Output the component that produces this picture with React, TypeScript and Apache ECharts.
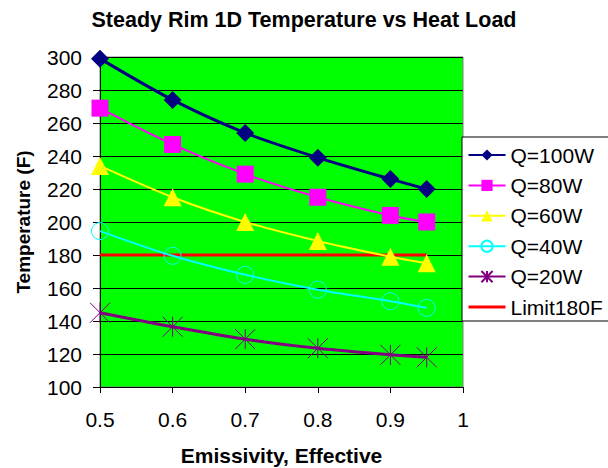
import React, { useEffect, useRef } from "react";
import * as echarts from "echarts";

const emissivity = [0.5, 0.6, 0.7, 0.8, 0.9, 0.95];
const q100 = [299, 274, 254, 239, 226, 220];
const q80 = [269, 247, 229, 215, 204, 200];
const q60 = [234, 215, 200, 188.5, 179, 175];
const q40 = [194.5, 179.5, 168, 159, 152, 148];
const q20 = [145, 136.5, 129, 123.5, 119.5, 118];
const limitX = [0.5, 0.95];
const limitY = [180, 180];
const seriesNames = ["Q=100W", "Q=80W", "Q=60W", "Q=40W", "Q=20W", "Limit180F"];

const FONT = "'Liberation Sans', Arial, sans-serif";
const ASTERISK = "path://M0 0L20 20M20 0L0 20M10 0L10 20";

function pairs(xs: number[], ys: number[]) {
  return xs.map((x, i) => [x, ys[i]]);
}

export default function App() {
  const ref = useRef<HTMLDivElement>(null);
  useEffect(() => {
    document.body.style.margin = "0";
    const chart = echarts.init(ref.current!, undefined, { renderer: "svg" });
    const mk = (
      name: string,
      ys: number[],
      color: string,
      symbol: string,
      size: number,
      width: number,
      hollow = false
    ) => ({
      name,
      type: "line",
      smooth: 0.3,
      data: pairs(emissivity, ys),
      symbol,
      symbolSize: size,
      showSymbol: true,
      lineStyle: { color, width },
      itemStyle: hollow
        ? { color: "rgba(0,0,0,0)", borderColor: color, borderWidth: 1 }
        : { color, borderColor: color, borderWidth: 0 },
      emphasis: { disabled: true },
    });
    chart.setOption({
      animation: false,
      backgroundColor: "#ffffff",
      textStyle: { fontFamily: FONT },
      title: {
        text: "Steady Rim 1D Temperature vs Heat Load",
        left: "center",
        top: 4,
        textStyle: { fontFamily: FONT, fontSize: 21.5, fontWeight: "bold", color: "#000" },
      },
      legend: {
        orient: "vertical",
        left: 462,
        top: 137,
        padding: [7.5, 6, 3.5, 5],
        itemWidth: 37,
        itemHeight: 14,
        itemGap: 9.4,
        backgroundColor: "#ffffff",
        borderColor: "#000000",
        borderWidth: 1,
        data: [
          ...seriesNames.slice(0, 5),
          {
            name: seriesNames[5],
            itemStyle: { color: "rgba(0,0,0,0)", opacity: 0, borderWidth: 0 },
            lineStyle: { color: "#ff0000", width: 3 },
          },
        ],
        textStyle: { fontFamily: FONT, fontSize: 21, color: "#000", lineHeight: 21 },
      },
      grid: {
        left: 100,
        right: 145,
        top: 57,
        bottom: 81,
        show: true,
        containLabel: false,
        outerBoundsMode: "none",
        backgroundColor: "#00ff00",
        borderColor: "#808080",
        borderWidth: 1,
      },
      xAxis: {
        type: "value",
        min: 0.5,
        max: 1,
        interval: 0.1,
        name: "Emissivity, Effective",
        nameLocation: "middle",
        nameGap: 58,
        nameTextStyle: { fontFamily: FONT, fontSize: 21, fontWeight: "bold", color: "#000" },
        axisLine: { show: true, lineStyle: { color: "#000", width: 1 } },
        axisTick: { show: true, length: 6, lineStyle: { color: "#000" } },
        axisLabel: {
          fontFamily: FONT,
          fontSize: 21,
          color: "#000",
          margin: 22,
          formatter: (v: number) => (Math.abs(v - 1) < 1e-9 ? "1" : v.toFixed(1)),
        },
        splitLine: { show: false },
      },
      yAxis: {
        type: "value",
        min: 100,
        max: 300,
        interval: 20,
        name: "Temperature (F)",
        nameLocation: "middle",
        nameGap: 67,
        nameRotate: 90,
        nameTextStyle: { fontFamily: FONT, fontSize: 19, fontWeight: "bold", color: "#000" },
        axisLine: { show: true, lineStyle: { color: "#000", width: 1 } },
        axisTick: { show: true, length: 7, lineStyle: { color: "#000" } },
        axisLabel: { fontFamily: FONT, fontSize: 21, color: "#000", margin: 18 },
        splitLine: { show: true, lineStyle: { color: "#000", width: 1 } },
      },
      series: [
        mk("Q=100W", q100, "#000080", "diamond", 18, 3),
        mk("Q=80W", q80, "#ff00ff", "rect", 17, 2),
        mk("Q=60W", q60, "#ffff00", "triangle", 18, 2),
        mk("Q=40W", q40, "#00ffff", "circle", 17, 2, true),
        mk("Q=20W", q20, "#800080", ASTERISK, 20, 3, true),
        {
          name: "Limit180F",
          type: "line",
          data: pairs(limitX, limitY),
          symbol: "none",
          lineStyle: { color: "#ff0000", width: 3 },
          itemStyle: { color: "#ff0000" },
          emphasis: { disabled: true },
          z: 1,
        },
      ],
    });
    return () => chart.dispose();
  }, []);
  return <div ref={ref} style={{ width: 608, height: 468 }} />;
}
